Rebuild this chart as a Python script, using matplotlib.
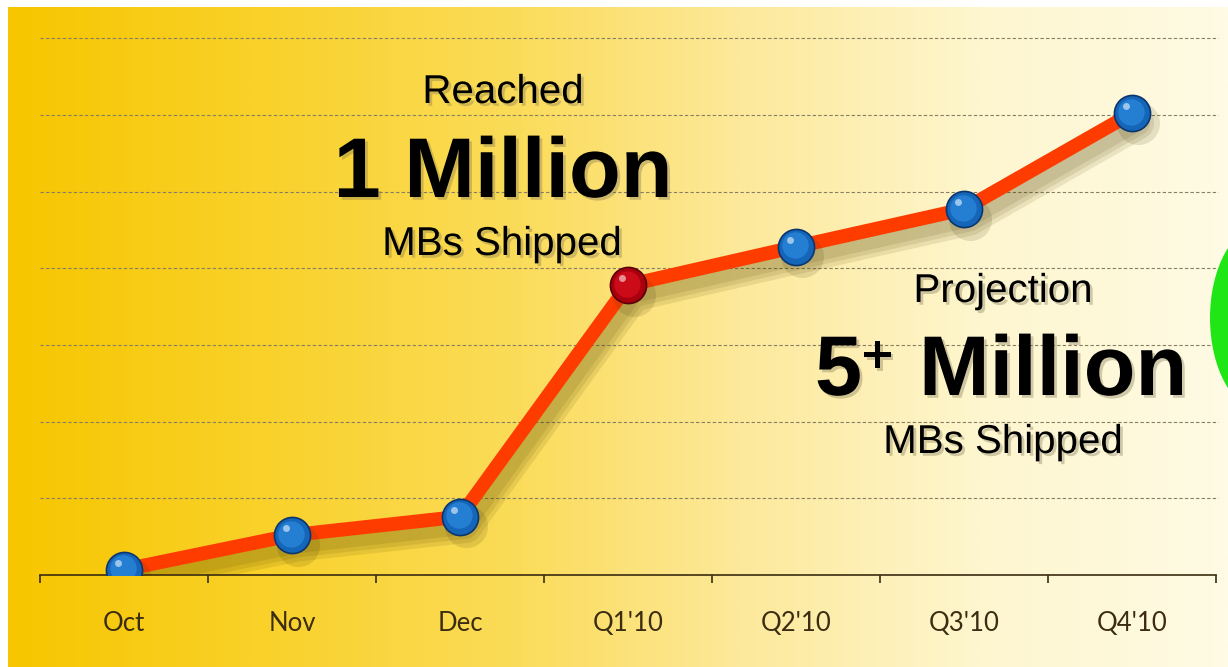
import numpy as np
import matplotlib
matplotlib.use("Agg")
import matplotlib.pyplot as plt
import matplotlib.patheffects as pe
from matplotlib.colors import LinearSegmentedColormap
from matplotlib.patches import Ellipse
from matplotlib.transforms import offset_copy

# ── data ─────────────────────────────────────────────
periods = ["Oct", "Nov", "Dec", "Q1'10", "Q2'10", "Q3'10", "Q4'10"]
shipped = [0.07, 0.52, 0.76, 3.78, 4.28, 4.77, 6.02]   # millions of MBs
milestone_idx = 3                                       # the red "1 Million" point
grid_levels = [1, 2, 3, 4, 5, 6, 7]

W, H = 1228, 667
fig = plt.figure(figsize=(W / 100, H / 100), dpi=100, facecolor="white")

def fx(px):
    return px / W

def fy(py):
    return 1 - py / H

# background gradient panel
bg = fig.add_axes([fx(8), 0, 1 - fx(8), fy(7)])
bg_cmap = LinearSegmentedColormap.from_list("bg", [
    (0.00, "#f7c600"), (0.20, "#f9d128"), (0.42, "#fbdc5a"),
    (0.60, "#fde99a"), (0.80, "#fef6cf"), (1.00, "#fffbe4")])
bg.imshow(np.linspace(0, 1, 512)[None, :], aspect="auto", cmap=bg_cmap,
          extent=[0, 1, 0, 1])
bg.set_axis_off()

# green blob at the right edge
blob = Ellipse((fx(1262), fy(318)), fx(104), 185 / H, transform=fig.transFigure,
               facecolor="#1fe614", edgecolor="none", zorder=1)
fig.patches.append(blob)

ax = fig.add_axes([fx(40), fy(575), fx(1176), (575 - 7) / H])
ax.patch.set_alpha(0)
ax.set_xlim(-0.5, len(periods) - 0.5)
ax.set_ylim(0, 568 / 76.7)

for g in grid_levels:
    ax.axhline(g, xmin=0, xmax=1.002, color="#867e62", lw=0.8,
               ls=(0, (3, 2)), zorder=1, clip_on=False)

for s in ["top", "right", "left"]:
    ax.spines[s].set_visible(False)
ax.spines["bottom"].set_color("#3a2c10")
ax.spines["bottom"].set_linewidth(1.2)
ax.set_yticks([])

x = np.arange(len(periods))
ax.set_xticks(np.arange(-0.5, len(periods)))
ax.set_xticklabels([])
ax.tick_params(axis="x", which="major", direction="out", length=6,
               width=1.2, color="#3a2c10")
ax.set_xticks(x, minor=True)
ax.set_xticklabels(periods, minor=True, fontfamily="Lato", fontsize=18.5,
                   color="#3b2c12")
ax.tick_params(axis="x", which="minor", length=0, pad=26)

# line with soft drop shadow
shadow = [pe.SimpleLineShadow(offset=(4, -7), shadow_color="#4a3c00",
                              alpha=0.11, linewidth=w)
          for w in (24, 18, 12)]
ax.plot(x, shipped, color="#ff3c00", lw=10, solid_capstyle="round",
        zorder=3, path_effects=shadow + [pe.Normal()])

# spheres: shadow, body, lighter core, highlight
colors = ["#1565b8"] * len(periods)
cores = ["#2a88dc"] * len(periods)
edges = ["#0a3670"] * len(periods)
colors[milestone_idx], cores[milestone_idx], edges[milestone_idx] = "#a8000e", "#d8101c", "#5a0008"

sh_tr = offset_copy(ax.transData, fig=fig, x=4, y=-7, units="points")
core_tr = offset_copy(ax.transData, fig=fig, x=-1, y=1, units="points")
hl_tr = offset_copy(ax.transData, fig=fig, x=-4, y=5, units="points")
for i in range(len(periods)):
    ax.plot(x[i], shipped[i], "o", ms=31, color="#3a3000", alpha=0.13,
            mec="none", transform=sh_tr, zorder=4)
    ax.plot(x[i], shipped[i], "o", ms=26, color=colors[i], mec=edges[i],
            mew=1.2, zorder=5)
    ax.plot(x[i], shipped[i], "o", ms=19, color=cores[i], alpha=0.75,
            mec="none", transform=core_tr, zorder=6)
    ax.plot(x[i], shipped[i], "o", ms=5, color="white", alpha=0.55,
            mec="none", transform=hl_tr, zorder=7)

# annotation text
txt_fx = [pe.SimplePatchShadow(offset=(2, -2), shadow_rgbFace="#7a7050", alpha=0.35),
          pe.Normal()]
font = "Liberation Sans"

fig.text(fx(503), fy(103), "Reached", ha="center", va="baseline",
         fontfamily=font, fontsize=29, path_effects=txt_fx)
fig.text(fx(503), fy(197), "1 Million", ha="center", va="baseline",
         fontfamily=font, fontsize=61, fontweight="bold", path_effects=txt_fx)
fig.text(fx(502), fy(255), "MBs Shipped", ha="center", va="baseline",
         fontfamily=font, fontsize=29, path_effects=txt_fx)

fig.text(fx(1003), fy(302), "Projection", ha="center", va="baseline",
         fontfamily=font, fontsize=29, path_effects=txt_fx)
fig.text(fx(815), fy(395), "5", ha="left", va="baseline",
         fontfamily=font, fontsize=61, fontweight="bold", path_effects=txt_fx)
fig.text(fx(862), fy(372), "+", ha="left", va="baseline",
         fontfamily=font, fontsize=38, fontweight="bold", path_effects=txt_fx)
fig.text(fx(1187), fy(395), "Million", ha="right", va="baseline",
         fontfamily=font, fontsize=61, fontweight="bold", path_effects=txt_fx)
fig.text(fx(1003), fy(453), "MBs Shipped", ha="center", va="baseline",
         fontfamily=font, fontsize=29, path_effects=txt_fx)

fig.savefig("out.png", dpi=100, facecolor="white")
